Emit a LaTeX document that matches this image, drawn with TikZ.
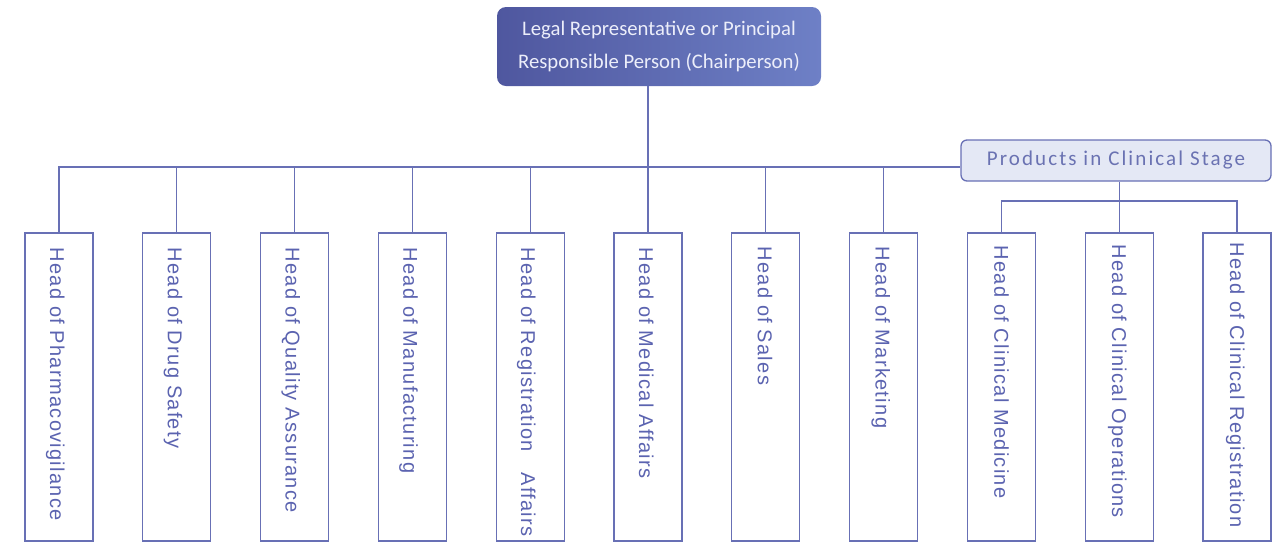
\documentclass[tikz,border=0pt]{standalone}
\usepackage{fontspec}
\setmainfont{Liberation Sans}
\newfontfamily\topfont{Carlito}
\newfontfamily\prodfont[LetterSpace=10]{Carlito}
\newfontfamily\vfont[LetterSpace=6.5]{Liberation Sans}
\definecolor{lineC}{HTML}{6870B5}
\definecolor{vtextC}{HTML}{5B63B0}
\definecolor{gradL}{HTML}{4F579F}
\definecolor{gradR}{HTML}{6E80C6}
\definecolor{prodFill}{HTML}{E4E8F5}
\definecolor{prodText}{HTML}{6A72B2}
\definecolor{topText}{HTML}{ECEEFA}
\tikzset{
  conn/.style={draw=lineC, line width=1.2pt},
  vbox/.style={draw=lineC, line width=1.3pt, fill=white, minimum width=68pt, minimum height=308pt, inner sep=0pt},
  vtext/.style={text=vtextC, font=\vfont\fontsize{20}{22}\selectfont, rotate=-90, anchor=base west, inner sep=0pt},
  topbox/.style={rounded corners=9pt, left color=gradL, right color=gradR, draw=none, minimum width=324pt, minimum height=79pt, text=topText, align=center, font=\topfont\fontsize{20.7}{33}\selectfont},
  prodbox/.style={rounded corners=6pt, fill=prodFill, draw=lineC, line width=1.3pt, minimum width=310pt, minimum height=41pt, text=prodText, font=\prodfont\fontsize{21}{24}\selectfont},
}
\begin{document}
\begin{tikzpicture}[x=1pt,y=-1pt]
\useasboundingbox (0,0) rectangle (1287,542);
\node[topbox] (top) at (659,46.5) {Legal Representative or Principal\\Responsible Person (Chairperson)};
\node[prodbox] (prod) at (1116,160.5) {Products in Clinical Stage};
% vertical boxes
\foreach \i/\cx in {1/59,2/176.8,3/294.6,4/412.4,5/530.2,6/648,7/765.8,8/883.6,9/1001.4,10/1119.2,11/1237}{
  \node[vbox] (b\i) at (\cx,387) {};
}
\node[vtext] (t1) at ([xshift=-9pt,yshift=-15pt]b1.north) {Head of Pharmacovigilance};
\node[vtext] (t2) at ([xshift=-9pt,yshift=-15pt]b2.north) {Head of Drug Safety};
\node[vtext] (t3) at ([xshift=-9pt,yshift=-15pt]b3.north) {Head of Quality Assurance};
\node[vtext] (t4) at ([xshift=-9pt,yshift=-15pt]b4.north) {Head of Manufacturing};
\node[vtext] (t5) at ([xshift=-9pt,yshift=-15pt]b5.north) {Head of Registration\ \ \ Affairs};
\node[vtext] (t6) at ([xshift=-9pt,yshift=-15pt]b6.north) {Head of Medical Affairs};
\node[vtext] (t7) at ([xshift=-8pt,yshift=-14pt]b7.north) {Head of Sales};
\node[vtext] (t8) at ([xshift=-8pt,yshift=-14pt]b8.north) {Head of Marketing};
\node[vtext] (t9) at ([xshift=-7pt,yshift=-13pt]b9.north) {Head of Clinical Medicine};
\node[vtext] (t10) at ([xshift=-7pt,yshift=-12pt]b10.north) {Head of Clinical Operations};
\node[vtext] (t11) at ([xshift=-7pt,yshift=-10pt]b11.north) {Head of Clinical Registration};
% connectors
\coordinate (busL) at (59,167);
\draw[conn] (b6.north) -- (b6.north |- top.south);
\draw[conn] (b1.north) -- (busL) -- (busL -| prod.west);
\foreach \i in {2,3,4,5,7,8}{
  \draw[conn] (b\i.north) -- (b\i.north |- busL);
}
\coordinate (subL) at (1001.4,201);
\draw[conn] (b10.north) -- (b10.north |- prod.south);
\draw[conn] (b9.north) -- (subL) -- (subL -| b11.north) -- (b11.north);
\end{tikzpicture}
\end{document}
